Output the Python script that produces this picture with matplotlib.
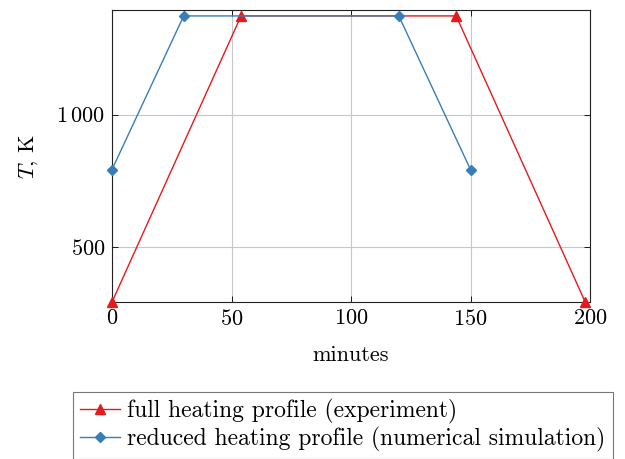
import matplotlib
matplotlib.use('Agg')
import matplotlib.pyplot as plt

plt.rcParams['font.family'] = ['cmr10', 'DejaVu Serif']
plt.rcParams['mathtext.fontset'] = 'cm'
plt.rcParams['axes.formatter.use_mathtext'] = True

# heating profiles, time in minutes, temperature in K
full_time = [0, 54, 144, 198]
full_temp = [293, 1373, 1373, 293]
reduced_time = [0, 30, 120, 150]
reduced_temp = [793, 1373, 1373, 793]

x_ticks = [0, 50, 100, 150, 200]
y_ticks = [500, 1000]
y_tick_labels = ['$500$', r'$1\,000$']

red = '#e41a1c'
blue = '#377eb8'

fig = plt.figure(figsize=(6.25, 4.59), dpi=100)
ax = fig.add_axes([0.1792, 0.342, 0.7648, 0.636])

ax.plot(full_time, full_temp, color=red, lw=1.0, marker='^', ms=7.5, clip_on=False,
        label='full heating profile (experiment)', zorder=3)
ax.plot(reduced_time, reduced_temp, color=blue, lw=1.0, marker='D', ms=5.5, clip_on=False,
        label='reduced heating profile (numerical simulation)', zorder=3)

ax.set_xlim(0, 200)
ax.set_ylim(293, 1395)
ax.set_xticks(x_ticks)
ax.set_xticklabels([f'${t}$' for t in x_ticks])
ax.set_yticks(y_ticks)
ax.set_yticklabels(y_tick_labels)
ax.grid(True, color='#c8c8c8', lw=0.8)
ax.set_axisbelow(True)
ax.tick_params(direction='in', top=True, right=True, labelsize=16, length=4, width=0.6, pad=5)
for s in ax.spines.values():
    s.set_linewidth(0.8)
    s.set_color('#222222')

ax.set_xlabel('minutes', fontsize=16, labelpad=12)
ax.set_ylabel('$T$, K', fontsize=16, labelpad=12)

leg = fig.legend(loc='upper left', bbox_to_anchor=(73 / 625, 1 - 392 / 459), borderaxespad=0,
                 fontsize=17, frameon=True, fancybox=False, edgecolor='#555555',
                 handlelength=1.7, borderpad=0.3, labelspacing=0.12, handletextpad=0.3)
leg.get_frame().set_linewidth(0.8)

fig.savefig('out.png', dpi=100)
